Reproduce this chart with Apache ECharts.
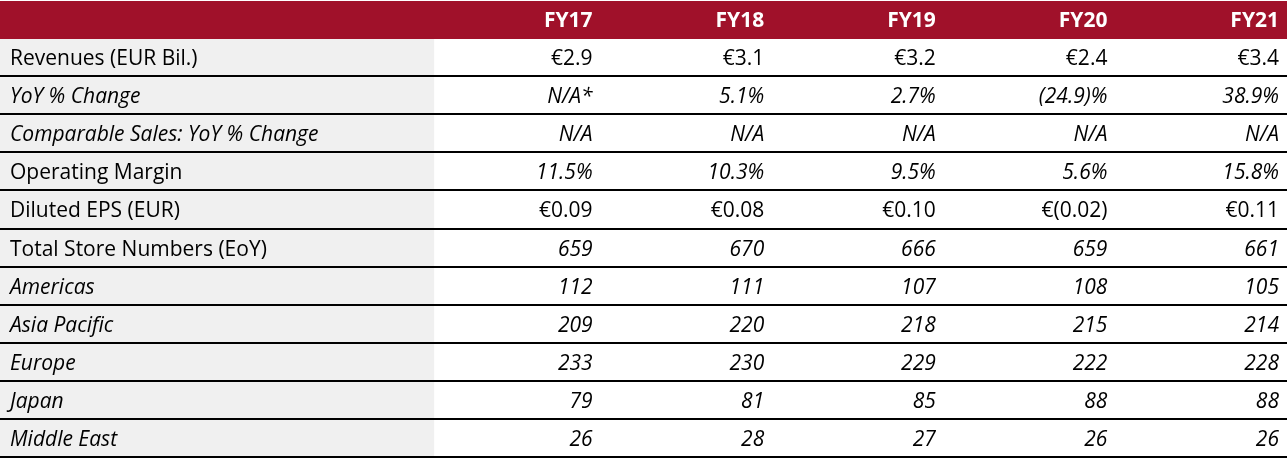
<!DOCTYPE html>
<html>
<head>
<meta charset="utf-8">
<script src="https://cdn.jsdelivr.net/npm/echarts@6/dist/echarts.min.js"></script>
<style>
  html, body { margin: 0; padding: 0; background: #fff; }
  #main { width: 1287px; height: 460px; }
</style>
</head>
<body>
<div id="main"></div>
<script>
// 表头和行名
var years = ['FY17', 'FY18', 'FY19', 'FY20', 'FY21'];
var rowLabels = ['Revenues (EUR Bil.)', 'YoY % Change', 'Comparable Sales: YoY % Change', 'Operating Margin',
  'Diluted EPS (EUR)', 'Total Store Numbers (EoY)', 'Americas', 'Asia Pacific', 'Europe', 'Japan', 'Middle East'];

// 每一行的数值
var revenues = ['€2.9', '€3.1', '€3.2', '€2.4', '€3.4'];
var yoyChange = ['N/A*', '5.1%', '2.7%', '(24.9)%', '38.9%'];
var compSales = ['N/A', 'N/A', 'N/A', 'N/A', 'N/A'];
var opMargin = ['11.5%', '10.3%', '9.5%', '5.6%', '15.8%'];
var dilutedEps = ['€0.09', '€0.08', '€0.10', '€(0.02)', '€0.11'];
var totalStores = [659, 670, 666, 659, 661];
var americas = [112, 111, 107, 108, 105];
var asiaPacific = [209, 220, 218, 215, 214];
var europe = [233, 230, 229, 222, 228];
var japan = [79, 81, 85, 88, 88];
var middleEast = [26, 28, 27, 26, 26];

var rows = [revenues, yoyChange, compSales, opMargin, dilutedEps, totalStores, americas, asiaPacific, europe, japan, middleEast];

// 斜体设置（行名 / 数值）
var labelItalic = [false, true, true, false, false, false, true, true, true, true, true];
var valueItalic = [false, true, true, true, false, true, true, true, true, true, true];

var FONT = 'Open Sans';
var FONT_SIZE = 21;
var X_MIN = -3, X_MAX = 4.5, LABEL_END = -0.47;

var myChart = echarts.init(document.getElementById('main'));

var rowKeys = ['header'].concat(rowLabels);

// 文字数据: [列位置, 行号, 文本, 类型]
var textData = [];
years.forEach(function (y, i) { textData.push([i, 0, y, 'head']); });
rowLabels.forEach(function (name, r) {
  textData.push([X_MIN, r + 1, name, labelItalic[r] ? 'labelI' : 'label']);
  rows[r].forEach(function (v, i) {
    textData.push([i, r + 1, String(v), valueItalic[r] ? 'valI' : 'val']);
  });
});

var bodyRows = rowLabels.map(function (n, r) { return [X_MIN, r + 1]; });

var option = {
  animation: false,
  grid: { left: 0, right: 0, top: 1, bottom: 2 },
  xAxis: { type: 'value', min: X_MIN, max: X_MAX, show: false },
  yAxis: { type: 'category', data: rowKeys, inverse: true, show: false },
  series: [
    {
      // 表头红色背景
      type: 'custom',
      data: [[X_MIN, 0]],
      renderItem: function (params, api) {
        var p0 = api.coord([X_MIN, 0]);
        var p1 = api.coord([X_MAX, 0]);
        var h = api.size([0, 1])[1];
        return { type: 'rect', shape: { x: p0[0], y: p0[1] - h / 2, width: p1[0] - p0[0], height: h },
          style: { fill: '#A0112A' } };
      }
    },
    {
      // 左列灰色背景
      type: 'custom',
      data: bodyRows,
      renderItem: function (params, api) {
        var r = api.value(1);
        var p0 = api.coord([X_MIN, r]);
        var p1 = api.coord([LABEL_END, r]);
        var h = api.size([0, 1])[1];
        return { type: 'rect', shape: { x: p0[0], y: p0[1] - h / 2, width: p1[0] - p0[0], height: h },
          style: { fill: '#F0F0F0' } };
      }
    },
    {
      // 行下方的黑线
      type: 'custom',
      data: bodyRows,
      renderItem: function (params, api) {
        var r = api.value(1);
        var p0 = api.coord([X_MIN, r]);
        var p1 = api.coord([X_MAX, r]);
        var h = api.size([0, 1])[1];
        var y = Math.round(p0[1] + h / 2) - 1;
        return { type: 'line', shape: { x1: p0[0], y1: y, x2: p1[0], y2: y },
          style: { stroke: '#000', lineWidth: 2 } };
      }
    },
    {
      // 文字
      type: 'custom',
      data: textData,
      renderItem: function (params, api) {
        var item = textData[params.dataIndex];
        var x = item[0], r = item[1], kind = item[3];
        var c = api.coord([x, r]);
        var tx, align;
        if (kind === 'label' || kind === 'labelI') {
          tx = c[0] + 10; align = 'left';
        } else {
          tx = api.coord([x + 0.5, r])[0] - 8; align = 'right';
        }
        return {
          type: 'text',
          style: {
            x: tx, y: c[1] + 1, text: item[2], align: align, verticalAlign: 'middle',
            fontFamily: FONT, fontSize: FONT_SIZE,
            fontStyle: (kind === 'labelI' || kind === 'valI') ? 'italic' : 'normal',
            fontWeight: kind === 'head' ? 'bold' : 'normal',
            fill: kind === 'head' ? '#fff' : '#000'
          }
        };
      }
    }
  ]
};

myChart.setOption(option);
window.addEventListener('resize', function () { myChart.resize(); });
</script>
</body>
</html>
